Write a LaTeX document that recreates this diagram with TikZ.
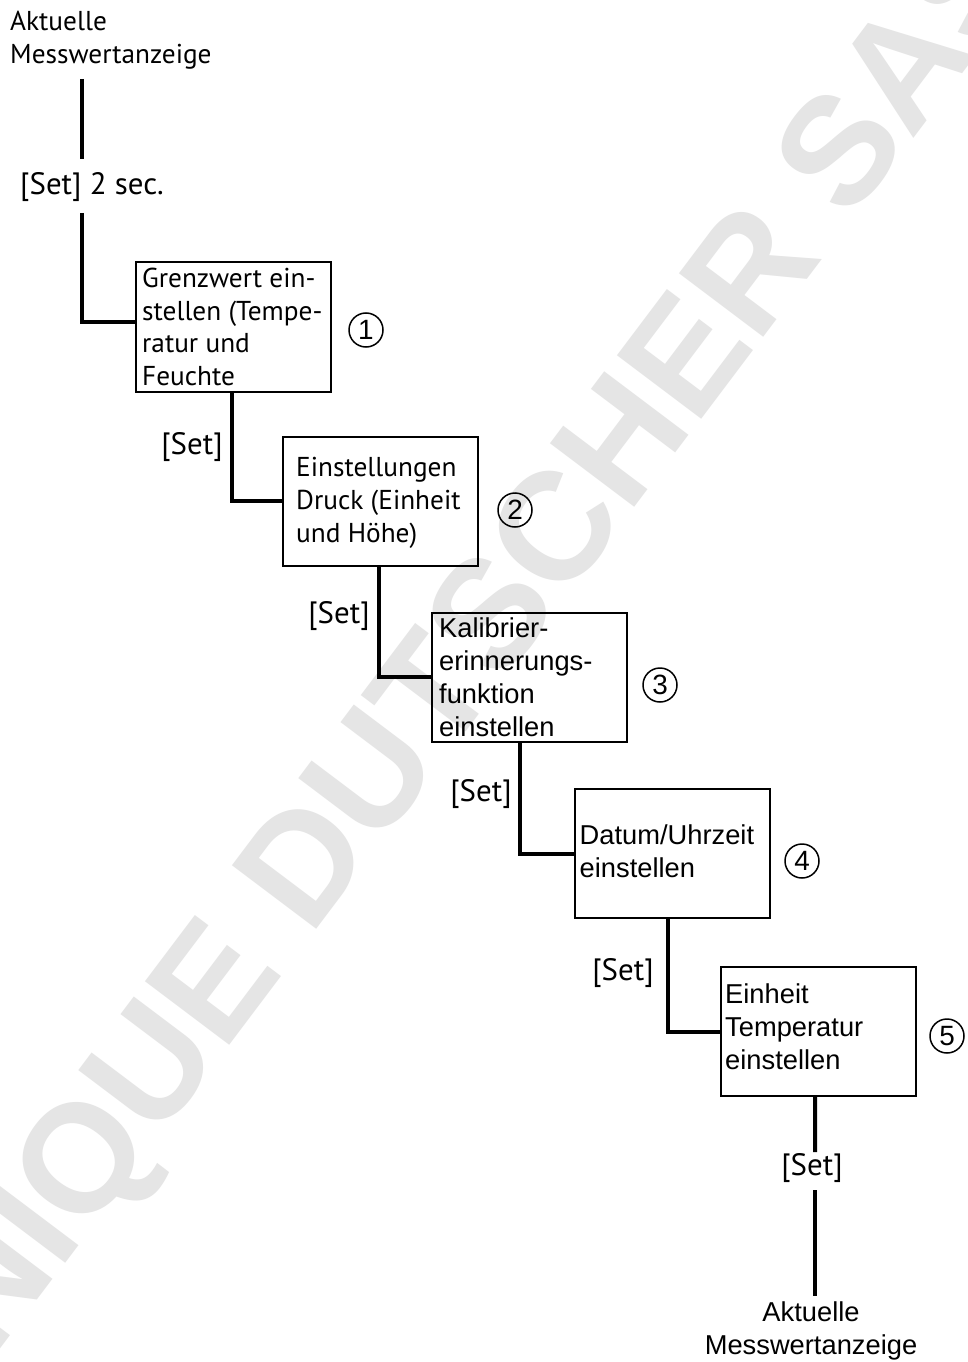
\documentclass[tikz,border=0pt]{standalone}
\usepackage{fontspec}
\setmainfont{PT Sans}
\newfontfamily\arialf{Liberation Sans}
\newfontfamily\wmf{Liberation Sans}
\begin{document}
\begin{tikzpicture}[x=1bp,y=-1bp,
  box/.style={draw, line width=2bp, minimum width=195bp, minimum height=129bp, inner sep=0pt},
  mtext/.style={font=\fontsize{27.4}{33}\selectfont, align=left, inner sep=0pt},
  atext/.style={font=\arialf\fontsize{27.4}{33}\selectfont, align=left, inner sep=0pt},
  setlbl/.style={font=\fontsize{31}{36}\selectfont, inner sep=0pt},
  circnum/.style={circle, draw, line width=1.5bp, minimum size=34bp, inner sep=0pt, font=\arialf\fontsize{28}{28}\selectfont},
  conn/.style={line width=4bp},
  wmark/.style={font=\wmf\bfseries\fontsize{154}{154}\selectfont, text=black!10, rotate=53, inner sep=0pt}
]
\useasboundingbox (0,0) rectangle (967,1362);
\fill[white] (0,0) rectangle (967,1362);
% watermark
\node[wmark] (wm) at (365,802) {DOMINIQUE DUTSCHER SAS};

% top text
\node[mtext, anchor=west] (top) at (10,40) {Aktuelle\\Messwertanzeige};
\node[setlbl] (s0) at (92,187) {[Set] 2 sec.};

% boxes
\node[box] (b1) at (233.5,327) {};
\node[mtext, anchor=west] (t1) at ([xshift=7bp]b1.west) {Grenzwert ein-\\stellen (Tempe-\\ratur und\\Feuchte};
\node[box] (b2) at (380.5,501) {};
\node[mtext, anchor=west] (t2) at ([xshift=14bp,yshift=-1.5bp]b2.west) {Einstellungen\\Druck (Einheit\\und Höhe)};
\node[box] (b3) at (529.5,677) {};
\node[atext, anchor=west] (t3) at ([xshift=8bp]b3.west) {Kalibrier-\\erinnerungs-\\funktion\\einstellen};
\node[box] (b4) at (672,853.5) {};
\node[atext, anchor=west] (t4) at ([xshift=6bp,yshift=2bp]b4.west) {Datum/Uhrzeit\\einstellen};
\node[box] (b5) at (818.5,1031.5) {};
\node[atext, anchor=west] (t5) at ([xshift=5bp,yshift=5bp]b5.west) {Einheit\\Temperatur\\einstellen};

% circled numbers
\node[circnum] (n1) at (366,330) {1};
\node[circnum] (n2) at (515,510) {2};
\node[circnum] (n3) at (660,685) {3};
\node[circnum] (n4) at (802,861) {4};
\node[circnum] (n5) at (947,1036) {5};

% set labels
\node[setlbl] (s1) at (192,447) {[Set]};
\node[setlbl] (s2) at (339,616) {[Set]};
\node[setlbl] (s3) at (481,794) {[Set]};
\node[setlbl] (s4) at (623,973) {[Set]};
\node[setlbl] (s5) at (812,1168) {[Set]};

% bottom text
\node[atext, align=center] (bot) at (811,1331) {Aktuelle\\Messwertanzeige};

% connectors
\coordinate (c0a) at (82,79);
\coordinate (c0b) at (82,159);
\coordinate (c0c) at (82,213);
\coordinate (c5a) at (815,1152);
\coordinate (c5b) at (815,1190);
\coordinate (c5c) at (815,1296);
\draw[conn] (c0a) -- (c0b);
\draw[conn] (c0c) |- ([yshift=5bp]b1.west);
\draw[conn] ([xshift=-2bp]b1.south) |- (b2.west);
\draw[conn] ([xshift=-2bp]b2.south) |- (b3.west);
\draw[conn] ([xshift=-10bp]b3.south) |- (b4.west);
\draw[conn] ([xshift=-4bp]b4.south) |- (b5.west);
\draw[conn] ([xshift=-3.5bp]b5.south) -- (c5a);
\draw[conn] (c5b) -- (c5c);
\end{tikzpicture}
\end{document}
